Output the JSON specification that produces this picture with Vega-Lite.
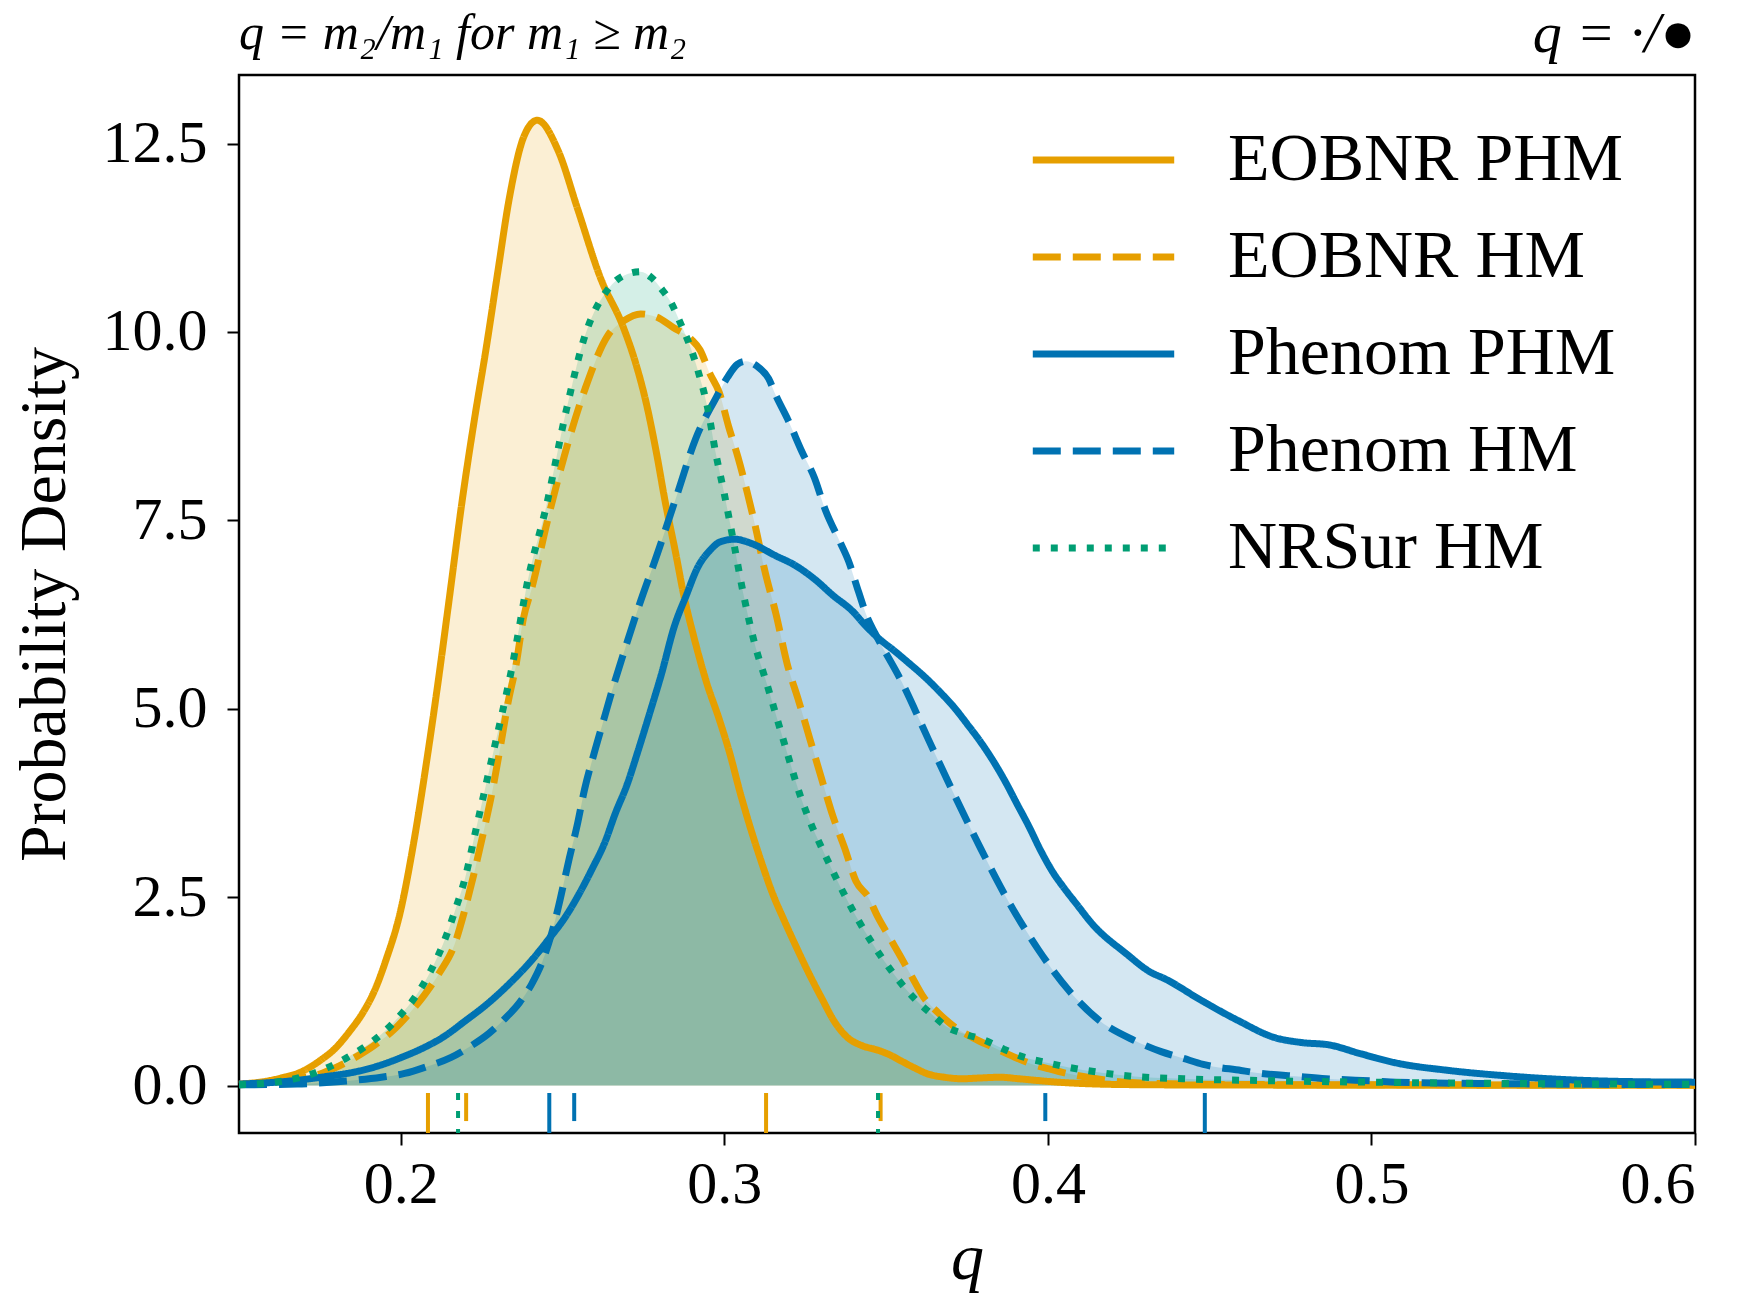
{
  "$schema": "https://vega.github.io/schema/vega-lite/v6.json",
  "width": 1456,
  "height": 1058,
  "autosize": "none",
  "padding": {"left": 239, "top": 75, "right": 42, "bottom": 167},
  "background": "white",
  "config": {
    "view": {"stroke": "black", "strokeWidth": 2.5},
    "font": "Liberation Serif",
    "axis": {"grid": false, "domain": false, "tickColor": "black", "tickWidth": 2, "tickSize": 12, "labelColor": "black", "labelFont": "Liberation Serif", "labelFontSize": 60, "titleFont": "Liberation Serif", "titleFontSize": 66, "titleFontWeight": "normal", "titleColor": "black"},
    "legend": {"orient": "none", "legendX": 790, "legendY": 50, "symbolType": "stroke", "symbolSize": 20000, "symbolStrokeWidth": 7, "labelFont": "Liberation Serif", "labelFontSize": 68, "labelColor": "black", "labelOffset": 50, "clipHeight": 70, "rowPadding": 27, "padding": 0, "labelLimit": 700}
  },
  "title": {"text": "q = m₂/m₁ for m₁ ≥ m₂", "anchor": "start", "frame": "group", "font": "Liberation Serif", "fontStyle": "italic", "fontSize": 50, "fontWeight": "normal", "color": "black", "offset": 0, "dy": 54},
  "datasets": {
    "curves": [
      {"series":"EOBNR PHM","q":0.150,"d":0.02},{"series":"EOBNR PHM","q":0.1574,"d":0.05},{"series":"EOBNR PHM","q":0.163,"d":0.10},{"series":"EOBNR PHM","q":0.1692,"d":0.18},{"series":"EOBNR PHM","q":0.175,"d":0.33},{"series":"EOBNR PHM","q":0.1799,"d":0.50},{"series":"EOBNR PHM","q":0.1842,"d":0.72},{"series":"EOBNR PHM","q":0.1882,"d":0.96},{"series":"EOBNR PHM","q":0.192,"d":1.27},{"series":"EOBNR PHM","q":0.1953,"d":1.65},{"series":"EOBNR PHM","q":0.200,"d":2.33},{"series":"EOBNR PHM","q":0.2041,"d":3.25},{"series":"EOBNR PHM","q":0.2083,"d":4.39},{"series":"EOBNR PHM","q":0.212,"d":5.50},{"series":"EOBNR PHM","q":0.2148,"d":6.40},{"series":"EOBNR PHM","q":0.2192,"d":7.83},{"series":"EOBNR PHM","q":0.2228,"d":8.85},{"series":"EOBNR PHM","q":0.2263,"d":9.76},{"series":"EOBNR PHM","q":0.230,"d":10.8},{"series":"EOBNR PHM","q":0.2334,"d":11.74},{"series":"EOBNR PHM","q":0.2381,"d":12.6},{"series":"EOBNR PHM","q":0.2422,"d":12.81},{"series":"EOBNR PHM","q":0.2487,"d":12.40},{"series":"EOBNR PHM","q":0.2546,"d":11.64},{"series":"EOBNR PHM","q":0.2617,"d":10.72},{"series":"EOBNR PHM","q":0.2688,"d":10.06},{"series":"EOBNR PHM","q":0.2725,"d":9.6},{"series":"EOBNR PHM","q":0.2759,"d":9.05},{"series":"EOBNR PHM","q":0.279,"d":8.4},{"series":"EOBNR PHM","q":0.2818,"d":7.73},{"series":"EOBNR PHM","q":0.2848,"d":7.1},{"series":"EOBNR PHM","q":0.2877,"d":6.46},{"series":"EOBNR PHM","q":0.2906,"d":5.95},{"series":"EOBNR PHM","q":0.2945,"d":5.35},{"series":"EOBNR PHM","q":0.2985,"d":4.85},{"series":"EOBNR PHM","q":0.3018,"d":4.39},{"series":"EOBNR PHM","q":0.3048,"d":3.9},{"series":"EOBNR PHM","q":0.3077,"d":3.47},{"series":"EOBNR PHM","q":0.3112,"d":3.0},{"series":"EOBNR PHM","q":0.3148,"d":2.56},{"series":"EOBNR PHM","q":0.3184,"d":2.2},{"series":"EOBNR PHM","q":0.3219,"d":1.87},{"series":"EOBNR PHM","q":0.326,"d":1.5},{"series":"EOBNR PHM","q":0.3302,"d":1.15},{"series":"EOBNR PHM","q":0.334,"d":0.85},{"series":"EOBNR PHM","q":0.338,"d":0.64},{"series":"EOBNR PHM","q":0.3425,"d":0.53},{"series":"EOBNR PHM","q":0.3474,"d":0.47},{"series":"EOBNR PHM","q":0.351,"d":0.41},{"series":"EOBNR PHM","q":0.3545,"d":0.33},{"series":"EOBNR PHM","q":0.359,"d":0.23},{"series":"EOBNR PHM","q":0.3628,"d":0.155},{"series":"EOBNR PHM","q":0.368,"d":0.11},{"series":"EOBNR PHM","q":0.3734,"d":0.09},{"series":"EOBNR PHM","q":0.379,"d":0.10},{"series":"EOBNR PHM","q":0.3852,"d":0.11},{"series":"EOBNR PHM","q":0.391,"d":0.09},{"series":"EOBNR PHM","q":0.397,"d":0.066},{"series":"EOBNR PHM","q":0.403,"d":0.045},{"series":"EOBNR PHM","q":0.409,"d":0.03},{"series":"EOBNR PHM","q":0.42,"d":0.015},{"series":"EOBNR PHM","q":0.44,"d":0.008},{"series":"EOBNR PHM","q":0.50,"d":0.004},{"series":"EOBNR PHM","q":0.60,"d":0.002},

      {"series":"EOBNR HM","q":0.150,"d":0.01},{"series":"EOBNR HM","q":0.1621,"d":0.05},{"series":"EOBNR HM","q":0.168,"d":0.09},{"series":"EOBNR HM","q":0.174,"d":0.14},{"series":"EOBNR HM","q":0.180,"d":0.24},{"series":"EOBNR HM","q":0.1858,"d":0.37},{"series":"EOBNR HM","q":0.1917,"d":0.53},{"series":"EOBNR HM","q":0.1976,"d":0.73},{"series":"EOBNR HM","q":0.2025,"d":0.95},{"series":"EOBNR HM","q":0.2071,"d":1.19},{"series":"EOBNR HM","q":0.212,"d":1.5},{"series":"EOBNR HM","q":0.2166,"d":1.87},{"series":"EOBNR HM","q":0.2196,"d":2.3},{"series":"EOBNR HM","q":0.2225,"d":2.79},{"series":"EOBNR HM","q":0.2255,"d":3.35},{"series":"EOBNR HM","q":0.2284,"d":3.93},{"series":"EOBNR HM","q":0.2308,"d":4.5},{"series":"EOBNR HM","q":0.2331,"d":5.07},{"series":"EOBNR HM","q":0.2357,"d":5.6},{"series":"EOBNR HM","q":0.2379,"d":6.2},{"series":"EOBNR HM","q":0.2405,"d":6.6},{"series":"EOBNR HM","q":0.2452,"d":7.47},{"series":"EOBNR HM","q":0.2511,"d":8.44},{"series":"EOBNR HM","q":0.257,"d":9.25},{"series":"EOBNR HM","q":0.2641,"d":9.96},{"series":"EOBNR HM","q":0.269,"d":10.15},{"series":"EOBNR HM","q":0.2741,"d":10.24},{"series":"EOBNR HM","q":0.279,"d":10.2},{"series":"EOBNR HM","q":0.2842,"d":10.06},{"series":"EOBNR HM","q":0.2898,"d":9.9},{"series":"EOBNR HM","q":0.2925,"d":9.76},{"series":"EOBNR HM","q":0.2955,"d":9.45},{"series":"EOBNR HM","q":0.2984,"d":9.2},{"series":"EOBNR HM","q":0.3013,"d":8.75},{"series":"EOBNR HM","q":0.3042,"d":8.34},{"series":"EOBNR HM","q":0.3072,"d":7.85},{"series":"EOBNR HM","q":0.3101,"d":7.32},{"series":"EOBNR HM","q":0.3123,"d":6.87},{"series":"EOBNR HM","q":0.316,"d":6.25},{"series":"EOBNR HM","q":0.3194,"d":5.6},{"series":"EOBNR HM","q":0.323,"d":5.1},{"series":"EOBNR HM","q":0.3265,"d":4.59},{"series":"EOBNR HM","q":0.330,"d":4.08},{"series":"EOBNR HM","q":0.3336,"d":3.57},{"series":"EOBNR HM","q":0.3372,"d":3.15},{"series":"EOBNR HM","q":0.3407,"d":2.71},{"series":"EOBNR HM","q":0.3445,"d":2.5},{"series":"EOBNR HM","q":0.3474,"d":2.24},{"series":"EOBNR HM","q":0.351,"d":1.97},{"series":"EOBNR HM","q":0.3545,"d":1.71},{"series":"EOBNR HM","q":0.358,"d":1.44},{"series":"EOBNR HM","q":0.3616,"d":1.17},{"series":"EOBNR HM","q":0.366,"d":0.97},{"series":"EOBNR HM","q":0.3711,"d":0.78},{"series":"EOBNR HM","q":0.377,"d":0.63},{"series":"EOBNR HM","q":0.3829,"d":0.51},{"series":"EOBNR HM","q":0.389,"d":0.39},{"series":"EOBNR HM","q":0.3947,"d":0.29},{"series":"EOBNR HM","q":0.4005,"d":0.22},{"series":"EOBNR HM","q":0.4065,"d":0.155},{"series":"EOBNR HM","q":0.415,"d":0.09},{"series":"EOBNR HM","q":0.4242,"d":0.044},{"series":"EOBNR HM","q":0.4419,"d":0.02},{"series":"EOBNR HM","q":0.47,"d":0.012},{"series":"EOBNR HM","q":0.50,"d":0.01},{"series":"EOBNR HM","q":0.55,"d":0.008},{"series":"EOBNR HM","q":0.60,"d":0.006},

      {"series":"Phenom PHM","q":0.150,"d":0.02},{"series":"Phenom PHM","q":0.160,"d":0.04},{"series":"Phenom PHM","q":0.168,"d":0.07},{"series":"Phenom PHM","q":0.177,"d":0.12},{"series":"Phenom PHM","q":0.1858,"d":0.18},{"series":"Phenom PHM","q":0.193,"d":0.26},{"series":"Phenom PHM","q":0.200,"d":0.37},{"series":"Phenom PHM","q":0.207,"d":0.5},{"series":"Phenom PHM","q":0.213,"d":0.64},{"series":"Phenom PHM","q":0.220,"d":0.86},{"series":"Phenom PHM","q":0.2272,"d":1.10},{"series":"Phenom PHM","q":0.234,"d":1.37},{"series":"Phenom PHM","q":0.2402,"d":1.65},{"series":"Phenom PHM","q":0.2455,"d":1.93},{"series":"Phenom PHM","q":0.2509,"d":2.24},{"series":"Phenom PHM","q":0.2552,"d":2.55},{"series":"Phenom PHM","q":0.2592,"d":2.88},{"series":"Phenom PHM","q":0.263,"d":3.22},{"series":"Phenom PHM","q":0.2663,"d":3.61},{"series":"Phenom PHM","q":0.270,"d":4.0},{"series":"Phenom PHM","q":0.2734,"d":4.45},{"series":"Phenom PHM","q":0.277,"d":4.95},{"series":"Phenom PHM","q":0.2805,"d":5.45},{"series":"Phenom PHM","q":0.2846,"d":6.1},{"series":"Phenom PHM","q":0.2882,"d":6.5},{"series":"Phenom PHM","q":0.2917,"d":6.87},{"series":"Phenom PHM","q":0.2955,"d":7.1},{"series":"Phenom PHM","q":0.299,"d":7.22},{"series":"Phenom PHM","q":0.3033,"d":7.25},{"series":"Phenom PHM","q":0.308,"d":7.2},{"series":"Phenom PHM","q":0.3159,"d":7.03},{"series":"Phenom PHM","q":0.322,"d":6.9},{"series":"Phenom PHM","q":0.3279,"d":6.72},{"series":"Phenom PHM","q":0.3337,"d":6.5},{"series":"Phenom PHM","q":0.3395,"d":6.3},{"series":"Phenom PHM","q":0.3437,"d":6.1},{"series":"Phenom PHM","q":0.3478,"d":5.93},{"series":"Phenom PHM","q":0.3525,"d":5.77},{"series":"Phenom PHM","q":0.3572,"d":5.6},{"series":"Phenom PHM","q":0.362,"d":5.42},{"series":"Phenom PHM","q":0.3667,"d":5.22},{"series":"Phenom PHM","q":0.371,"d":5.02},{"series":"Phenom PHM","q":0.375,"d":4.8},{"series":"Phenom PHM","q":0.3792,"d":4.56},{"series":"Phenom PHM","q":0.3832,"d":4.3},{"series":"Phenom PHM","q":0.387,"d":4.02},{"series":"Phenom PHM","q":0.3903,"d":3.75},{"series":"Phenom PHM","q":0.394,"d":3.45},{"series":"Phenom PHM","q":0.398,"d":3.1},{"series":"Phenom PHM","q":0.402,"d":2.8},{"series":"Phenom PHM","q":0.4045,"d":2.65},{"series":"Phenom PHM","q":0.409,"d":2.4},{"series":"Phenom PHM","q":0.4136,"d":2.15},{"series":"Phenom PHM","q":0.4242,"d":1.75},{"series":"Phenom PHM","q":0.4319,"d":1.5},{"series":"Phenom PHM","q":0.436,"d":1.42},{"series":"Phenom PHM","q":0.4478,"d":1.12},{"series":"Phenom PHM","q":0.4589,"d":0.86},{"series":"Phenom PHM","q":0.4698,"d":0.64},{"series":"Phenom PHM","q":0.4785,"d":0.57},{"series":"Phenom PHM","q":0.4868,"d":0.54},{"series":"Phenom PHM","q":0.4968,"d":0.42},{"series":"Phenom PHM","q":0.5076,"d":0.30},{"series":"Phenom PHM","q":0.5239,"d":0.20},{"series":"Phenom PHM","q":0.5401,"d":0.134},{"series":"Phenom PHM","q":0.5618,"d":0.075},{"series":"Phenom PHM","q":0.5834,"d":0.05},{"series":"Phenom PHM","q":0.600,"d":0.045},

      {"series":"Phenom HM","q":0.150,"d":0.01},{"series":"Phenom HM","q":0.168,"d":0.02},{"series":"Phenom HM","q":0.177,"d":0.04},{"series":"Phenom HM","q":0.1858,"d":0.07},{"series":"Phenom HM","q":0.194,"d":0.11},{"series":"Phenom HM","q":0.2012,"d":0.16},{"series":"Phenom HM","q":0.208,"d":0.25},{"series":"Phenom HM","q":0.2154,"d":0.37},{"series":"Phenom HM","q":0.2215,"d":0.52},{"series":"Phenom HM","q":0.2272,"d":0.69},{"series":"Phenom HM","q":0.232,"d":0.88},{"series":"Phenom HM","q":0.2367,"d":1.10},{"series":"Phenom HM","q":0.2405,"d":1.35},{"series":"Phenom HM","q":0.2438,"d":1.65},{"series":"Phenom HM","q":0.2465,"d":2.0},{"series":"Phenom HM","q":0.2485,"d":2.33},{"series":"Phenom HM","q":0.2521,"d":3.02},{"series":"Phenom HM","q":0.2545,"d":3.45},{"series":"Phenom HM","q":0.2568,"d":3.93},{"series":"Phenom HM","q":0.2597,"d":4.4},{"series":"Phenom HM","q":0.2627,"d":4.85},{"series":"Phenom HM","q":0.2657,"d":5.3},{"series":"Phenom HM","q":0.2686,"d":5.7},{"series":"Phenom HM","q":0.2735,"d":6.35},{"series":"Phenom HM","q":0.2794,"d":7.07},{"series":"Phenom HM","q":0.2853,"d":7.83},{"series":"Phenom HM","q":0.2912,"d":8.59},{"series":"Phenom HM","q":0.2971,"d":9.10},{"series":"Phenom HM","q":0.301,"d":9.4},{"series":"Phenom HM","q":0.304,"d":9.57},{"series":"Phenom HM","q":0.3066,"d":9.61},{"series":"Phenom HM","q":0.310,"d":9.55},{"series":"Phenom HM","q":0.3137,"d":9.38},{"series":"Phenom HM","q":0.3159,"d":9.16},{"series":"Phenom HM","q":0.3196,"d":8.84},{"series":"Phenom HM","q":0.3241,"d":8.40},{"series":"Phenom HM","q":0.3279,"d":8.06},{"series":"Phenom HM","q":0.3312,"d":7.64},{"series":"Phenom HM","q":0.3359,"d":7.2},{"series":"Phenom HM","q":0.3383,"d":6.97},{"series":"Phenom HM","q":0.3415,"d":6.55},{"series":"Phenom HM","q":0.3442,"d":6.21},{"series":"Phenom HM","q":0.3466,"d":6.0},{"series":"Phenom HM","q":0.3549,"d":5.35},{"series":"Phenom HM","q":0.3631,"d":4.59},{"series":"Phenom HM","q":0.3714,"d":3.83},{"series":"Phenom HM","q":0.3794,"d":3.13},{"series":"Phenom HM","q":0.3876,"d":2.46},{"series":"Phenom HM","q":0.3971,"d":1.80},{"series":"Phenom HM","q":0.4065,"d":1.26},{"series":"Phenom HM","q":0.416,"d":0.86},{"series":"Phenom HM","q":0.4266,"d":0.60},{"series":"Phenom HM","q":0.435,"d":0.45},{"series":"Phenom HM","q":0.4419,"d":0.36},{"series":"Phenom HM","q":0.448,"d":0.28},{"series":"Phenom HM","q":0.4597,"d":0.20},{"series":"Phenom HM","q":0.4643,"d":0.17},{"series":"Phenom HM","q":0.4774,"d":0.12},{"series":"Phenom HM","q":0.486,"d":0.09},{"series":"Phenom HM","q":0.501,"d":0.06},{"series":"Phenom HM","q":0.5076,"d":0.045},{"series":"Phenom HM","q":0.5401,"d":0.025},{"series":"Phenom HM","q":0.57,"d":0.016},{"series":"Phenom HM","q":0.60,"d":0.012},

      {"series":"NRSur HM","q":0.150,"d":0.01},{"series":"NRSur HM","q":0.1621,"d":0.05},{"series":"NRSur HM","q":0.1716,"d":0.14},{"series":"NRSur HM","q":0.1775,"d":0.24},{"series":"NRSur HM","q":0.1834,"d":0.37},{"series":"NRSur HM","q":0.1894,"d":0.53},{"series":"NRSur HM","q":0.1953,"d":0.73},{"series":"NRSur HM","q":0.200,"d":0.94},{"series":"NRSur HM","q":0.2047,"d":1.19},{"series":"NRSur HM","q":0.209,"d":1.5},{"series":"NRSur HM","q":0.213,"d":1.87},{"series":"NRSur HM","q":0.2166,"d":2.3},{"series":"NRSur HM","q":0.2201,"d":2.79},{"series":"NRSur HM","q":0.223,"d":3.35},{"series":"NRSur HM","q":0.226,"d":3.93},{"series":"NRSur HM","q":0.229,"d":4.5},{"series":"NRSur HM","q":0.232,"d":5.07},{"series":"NRSur HM","q":0.2346,"d":5.6},{"series":"NRSur HM","q":0.2367,"d":6.1},{"series":"NRSur HM","q":0.2386,"d":6.56},{"series":"NRSur HM","q":0.2452,"d":7.73},{"series":"NRSur HM","q":0.2511,"d":8.95},{"series":"NRSur HM","q":0.257,"d":9.96},{"series":"NRSur HM","q":0.2641,"d":10.57},{"series":"NRSur HM","q":0.269,"d":10.75},{"series":"NRSur HM","q":0.2741,"d":10.80},{"series":"NRSur HM","q":0.2775,"d":10.72},{"series":"NRSur HM","q":0.2806,"d":10.57},{"series":"NRSur HM","q":0.2834,"d":10.4},{"series":"NRSur HM","q":0.2865,"d":10.11},{"series":"NRSur HM","q":0.2895,"d":9.8},{"series":"NRSur HM","q":0.2921,"d":9.45},{"series":"NRSur HM","q":0.2948,"d":9.0},{"series":"NRSur HM","q":0.2973,"d":8.4},{"series":"NRSur HM","q":0.300,"d":7.85},{"series":"NRSur HM","q":0.3027,"d":7.25},{"series":"NRSur HM","q":0.306,"d":6.5},{"series":"NRSur HM","q":0.3094,"d":5.86},{"series":"NRSur HM","q":0.313,"d":5.35},{"series":"NRSur HM","q":0.3165,"d":4.84},{"series":"NRSur HM","q":0.320,"d":4.33},{"series":"NRSur HM","q":0.3236,"d":3.83},{"series":"NRSur HM","q":0.327,"d":3.45},{"series":"NRSur HM","q":0.3307,"d":3.1},{"series":"NRSur HM","q":0.338,"d":2.46},{"series":"NRSur HM","q":0.3451,"d":1.93},{"series":"NRSur HM","q":0.3522,"d":1.49},{"series":"NRSur HM","q":0.3593,"d":1.13},{"series":"NRSur HM","q":0.364,"d":0.95},{"series":"NRSur HM","q":0.3687,"d":0.78},{"series":"NRSur HM","q":0.3745,"d":0.68},{"series":"NRSur HM","q":0.3805,"d":0.60},{"series":"NRSur HM","q":0.3865,"d":0.48},{"series":"NRSur HM","q":0.3923,"d":0.38},{"series":"NRSur HM","q":0.400,"d":0.30},{"series":"NRSur HM","q":0.4065,"d":0.24},{"series":"NRSur HM","q":0.415,"d":0.18},{"series":"NRSur HM","q":0.4242,"d":0.13},{"series":"NRSur HM","q":0.4419,"d":0.09},{"series":"NRSur HM","q":0.4655,"d":0.066},{"series":"NRSur HM","q":0.501,"d":0.044},{"series":"NRSur HM","q":0.55,"d":0.025},{"series":"NRSur HM","q":0.60,"d":0.015}
    ],
    "intervals": [
      {"series":"EOBNR PHM","q":0.2084},{"series":"EOBNR PHM","q":0.3129},
      {"series":"EOBNR HM","q":0.2202},{"series":"EOBNR HM","q":0.3483},
      {"series":"Phenom PHM","q":0.2459},{"series":"Phenom PHM","q":0.4485},
      {"series":"Phenom HM","q":0.2536},{"series":"Phenom HM","q":0.3992},
      {"series":"NRSur HM","q":0.2177},{"series":"NRSur HM","q":0.3475}
    ]
  },
  "resolve": {"axis": {"x": "independent"}},
  "layer": [
    {
      "data": {"name": "curves"},
      "mark": {"type": "area", "fillOpacity": 0.17, "interpolate": "monotone"},
      "encoding": {
        "x": {"field": "q", "type": "quantitative", "scale": {"domain": [0.15, 0.6], "nice": false, "zero": false},
              "axis": {"orient": "bottom", "values": [0.2, 0.3, 0.4, 0.5, 0.6], "format": ".1f", "title": "q", "titleFontStyle": "italic", "labelPadding": 10, "titlePadding": 12}},
        "y": {"field": "d", "type": "quantitative", "stack": null, "scale": {"domain": [-0.63, 13.41], "nice": false, "zero": false},
              "axis": {"values": [0, 2.5, 5, 7.5, 10, 12.5], "format": ".1f", "title": "Probability Density", "labelPadding": 20, "titlePadding": 24}},
        "fill": {"field": "series", "type": "nominal", "title": null, "legend": {"symbolType": "stroke"},
                 "scale": {"domain": ["EOBNR PHM", "EOBNR HM", "Phenom PHM", "Phenom HM", "NRSur HM"], "range": ["#E69F00", "#E69F00", "#0072B2", "#0072B2", "#009E73"]}}
      }
    },
    {
      "data": {"name": "curves"},
      "mark": {"type": "line", "strokeWidth": 7, "interpolate": "monotone", "strokeCap": "butt"},
      "encoding": {
        "x": {"field": "q", "type": "quantitative", "axis": null},
        "y": {"field": "d", "type": "quantitative"},
        "stroke": {"field": "series", "type": "nominal", "title": null, "legend": {"symbolType": "stroke"},
                   "scale": {"domain": ["EOBNR PHM", "EOBNR HM", "Phenom PHM", "Phenom HM", "NRSur HM"], "range": ["#E69F00", "#E69F00", "#0072B2", "#0072B2", "#009E73"]}},
        "strokeDash": {"field": "series", "type": "nominal", "title": null, "legend": {"symbolType": "stroke"},
                       "scale": {"domain": ["EOBNR PHM", "EOBNR HM", "Phenom PHM", "Phenom HM", "NRSur HM"], "range": [[1, 0], [28, 12], [1, 0], [28, 12], [7, 11]]}}
      }
    },
    {
      "data": {"name": "intervals"},
      "mark": {"type": "rule", "strokeWidth": 4, "strokeCap": "butt"},
      "encoding": {
        "x": {"field": "q", "type": "quantitative",
              "axis": {"orient": "top", "labels": false, "ticks": false, "domain": false, "grid": false, "title": "q = ·/●", "titleAnchor": "end", "titleFontStyle": "italic", "titleFontSize": 58, "titlePadding": 12}},
        "y": {"datum": -0.1},
        "y2": {"datum": -0.63},
        "stroke": {"field": "series", "type": "nominal", "title": null, "legend": {"symbolType": "stroke"}},
        "strokeDash": {"field": "series", "type": "nominal", "title": null, "legend": {"symbolType": "stroke"}}
      }
    }
  ]
}
